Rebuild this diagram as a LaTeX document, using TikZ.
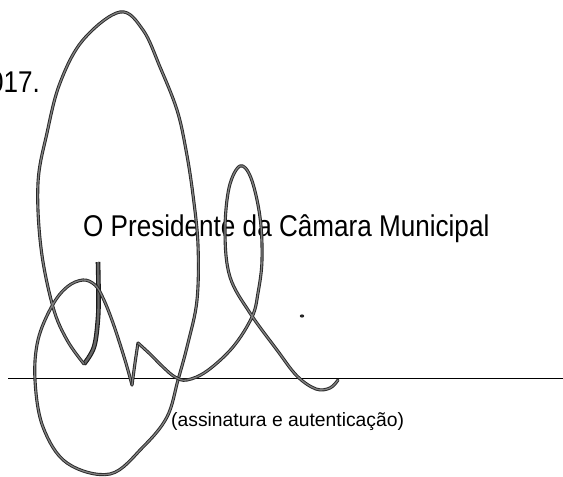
\documentclass[tikz,border=0pt]{standalone}
\usepackage{fontspec}
\newfontfamily\arialf{Liberation Sans}
\begin{document}
\begin{tikzpicture}[x=1pt,y=-1pt,
  sig/.style={draw=black!85, double=black!50, line width=0.9pt, double distance=1.3pt, line cap=round, line join=round},
  sigthick/.style={draw=black!90, double=black!60, line width=1.1pt, double distance=2.4pt, line cap=butt},
  rule/.style={draw=black, line width=1pt},
  bigtext/.style={anchor=base west, inner sep=0pt, font=\arialf\fontsize{30}{35}\selectfont},
  smalltext/.style={anchor=base west, inner sep=0pt, font=\arialf\fontsize{19.3}{23}\selectfont}]
\fill[white] (0,0) rectangle (563,477);
\useasboundingbox (0,0) rectangle (563,477);
\clip (0,0) rectangle (563,477);

% texts
\node[bigtext, anchor=base east] (year) at (40,92) {\scalebox{0.87}[1]{017.}};
\node[bigtext] (pres) at (83,236) {\scalebox{0.87}[1]{O Presidente da Câmara Municipal}};
\node[smalltext] (sub) at (171,426) {(assinatura e autenticação)};

% signature rule
\coordinate (ruleL) at (8,378);
\coordinate (ruleR) at (563,378);
\draw[rule] (ruleL) -- (ruleR);

% signature strokes
\draw[sigthick] plot[smooth, tension=0.6] coordinates {(98,262) (98.5,290) (98,318) (94,347) (84,364)};
\draw[sig] plot[smooth, tension=0.6] coordinates {
  (84,364) (67,340) (53,307) (41,248) (38,183) (47,133) (60,83) (83,40) (120,12)
  (143,30) (160,67) (177,110) (186,150) (193,195) (198,245) (197,300) (188,343)
  (178,380) (167,417) (143,447) (110,474) (67,463) (43,427) (35,380) (38,340)
  (52,306) (67,287) (83,280) (95,285) (103,298) (113,323) (125,360) (132,385)};
\draw[sig] plot[smooth, tension=0.5] coordinates {(132,385) (135,363) (138,343)};
\draw[sig] plot[smooth, tension=0.6] coordinates {
  (138,343) (150,354) (163,367) (175,377) (187,380) (207,371) (233,347) (252,317)
  (258,293) (262,260) (260,217) (251,178) (240,166) (229,188) (225,233) (230,277)
  (250,313) (277,350) (297,376) (316,389) (330,388) (338,380)};
\fill[black!85] (302,316) ellipse (2.2 and 1.6);
\end{tikzpicture}
\end{document}
